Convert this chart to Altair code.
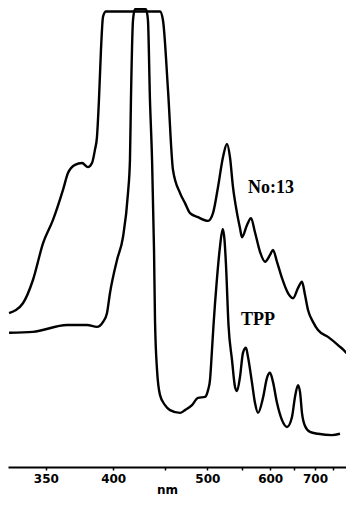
import altair as alt
import pandas as pd

# ---- data (wavelength in nm, relative absorbance) ----
NO13_WL = [327.6, 335.7, 341.8, 348.2, 354.7, 361.5, 365.0, 370.0, 375.2, 379.7,
           382.8, 385.1, 386.7, 388.3, 389.9, 391.6, 394.0, 444.2, 447.3, 452.7,
           458.2, 466.2, 472.0, 478.0, 487.9, 500.9, 507.6, 514.5, 521.6, 527.5,
           531.9, 536.5, 542.7, 547.4, 550.6, 558.8, 565.5, 572.3, 581.2, 590.3,
           599.7, 605.4, 613.3, 623.5, 636.1, 647.0, 658.3, 667.6, 674.9, 682.2,
           694.7, 707.8, 735.4, 765.3, 797.7, 811.4]
NO13_ABS = [33.8, 36.0, 41.1, 49.2, 54.3, 60.9, 64.6, 66.4, 66.8, 65.9,
            66.8, 69.7, 72.5, 80.7, 91.6, 99.0, 100.1, 100.1, 98.2, 82.9,
            65.3, 60.2, 58.0, 55.8, 54.9, 54.1, 55.8, 61.5, 68.1, 71.0,
            68.1, 61.5, 55.8, 52.5, 50.5, 53.2, 54.7, 51.6, 47.3, 45.1,
            46.6, 47.7, 45.1, 41.5, 38.2, 37.1, 39.3, 40.7, 37.8, 34.5,
            31.9, 30.1, 28.6, 26.8, 24.6, 23.1]

TPP_WL = [327.6, 341.8, 364.3, 379.0, 386.7, 391.6, 394.8, 397.3, 403.3, 408.5,
          413.0, 414.8, 415.7, 417.6, 419.4, 430.0, 431.9, 433.9, 436.0, 438.0,
          439.0, 441.1, 444.2, 449.5, 454.9, 466.2, 472.0, 480.4, 487.9, 496.9,
          500.9, 503.5, 506.2, 508.3, 512.7, 517.3, 521.2, 523.8, 526.0, 529.7,
          535.0, 539.6, 542.7, 547.4, 552.2, 557.1, 560.4, 567.2, 572.3, 577.6,
          586.6, 594.0, 599.7, 605.4, 613.3, 623.5, 634.0, 644.8, 651.5, 658.3,
          663.0, 667.6, 674.9, 687.1, 707.8, 747.1, 771.5]
TPP_ABS = [29.5, 29.7, 31.2, 31.2, 30.8, 31.9, 33.8, 38.2, 45.5, 50.5,
           60.2, 67.5, 80.7, 98.2, 100.6, 100.6, 98.2, 80.7, 67.5, 47.7,
           32.3, 21.3, 15.8, 13.6, 12.5, 11.9, 12.5, 13.6, 15.2, 15.4,
           16.9, 19.1, 25.7, 31.2, 40.7, 48.4, 52.3, 49.9, 44.4, 31.2,
           23.5, 17.6, 16.7, 19.8, 25.1, 26.2, 24.2, 18.5, 14.1, 11.9,
           15.2, 19.6, 20.7, 18.7, 14.1, 10.3, 8.8, 11.0, 15.4, 18.0,
           16.5, 11.9, 9.0, 7.7, 7.3, 7.0, 7.3]

TICK_NM = [350, 400, 450, 500, 550, 600, 650, 700, 750]
LABELED_NM = [350, 400, 500, 600, 700]

LABEL_TEXT = ["No:13", "TPP"]
LABEL_WL = [601.6, 577.6]
LABEL_ABS = [61.3, 32.3]

# ---- tables ----
curves = pd.concat([
    pd.DataFrame({"wl": NO13_WL, "a": NO13_ABS, "sample": "No:13"}),
    pd.DataFrame({"wl": TPP_WL, "a": TPP_ABS, "sample": "TPP"}),
], ignore_index=True)
labels = pd.DataFrame({"wl": LABEL_WL, "a": LABEL_ABS, "text": LABEL_TEXT})

# wavelength axis is linear in 1/lambda (pow scale, exponent -1)
xscale = alt.Scale(type="pow", exponent=-1, domain=[327, 791], nice=False, zero=False)
yscale = alt.Scale(domain=[0, 100.88], nice=False, zero=False)

label_list = "[" + ",".join(str(v) for v in LABELED_NM) + "]"

x_axis = alt.Axis(
    values=TICK_NM,
    tickCount=len(TICK_NM) + 5,
    labelExpr=f"indexof({label_list}, datum.value) >= 0 ? datum.label : ''",
    title="nm",
    grid=False,
    domainColor="black",
    domainWidth=2,
    tickColor="black",
    tickWidth=1.5,
    tickSize=3,
    labelPadding=3,
    labelFont="DejaVu Sans",
    labelFontWeight="bold",
    labelFontSize=12,
    labelColor="black",
    labelFlush=False,
    labelOverlap=False,
    titleFont="DejaVu Sans",
    titleFontWeight="bold",
    titleFontSize=12,
    titleColor="black",
    titleX=159,
    titleY=22,
    titleBaseline="middle",
)

lines = alt.Chart(curves).mark_line(
    color="black", strokeWidth=2.4, interpolate="monotone", clip=True
).encode(
    x=alt.X("wl:Q", scale=xscale, axis=x_axis),
    y=alt.Y("a:Q", scale=yscale, axis=None),
    detail="sample:N",
)

texts = alt.Chart(labels).mark_text(
    font="Liberation Serif", fontWeight="bold", fontSize=18, color="black",
    align="center", baseline="middle"
).encode(
    x=alt.X("wl:Q", scale=xscale, axis=x_axis),
    y=alt.Y("a:Q", scale=yscale, axis=None),
    text="text:N",
)

chart = alt.layer(lines, texts).properties(
    width=338, height=459,
    padding={"left": 0, "right": 0, "top": 0, "bottom": 0},
    background="white",
).configure_view(stroke=None)

chart.save("out.html", embed_options={"renderer": "svg", "actions": False})
